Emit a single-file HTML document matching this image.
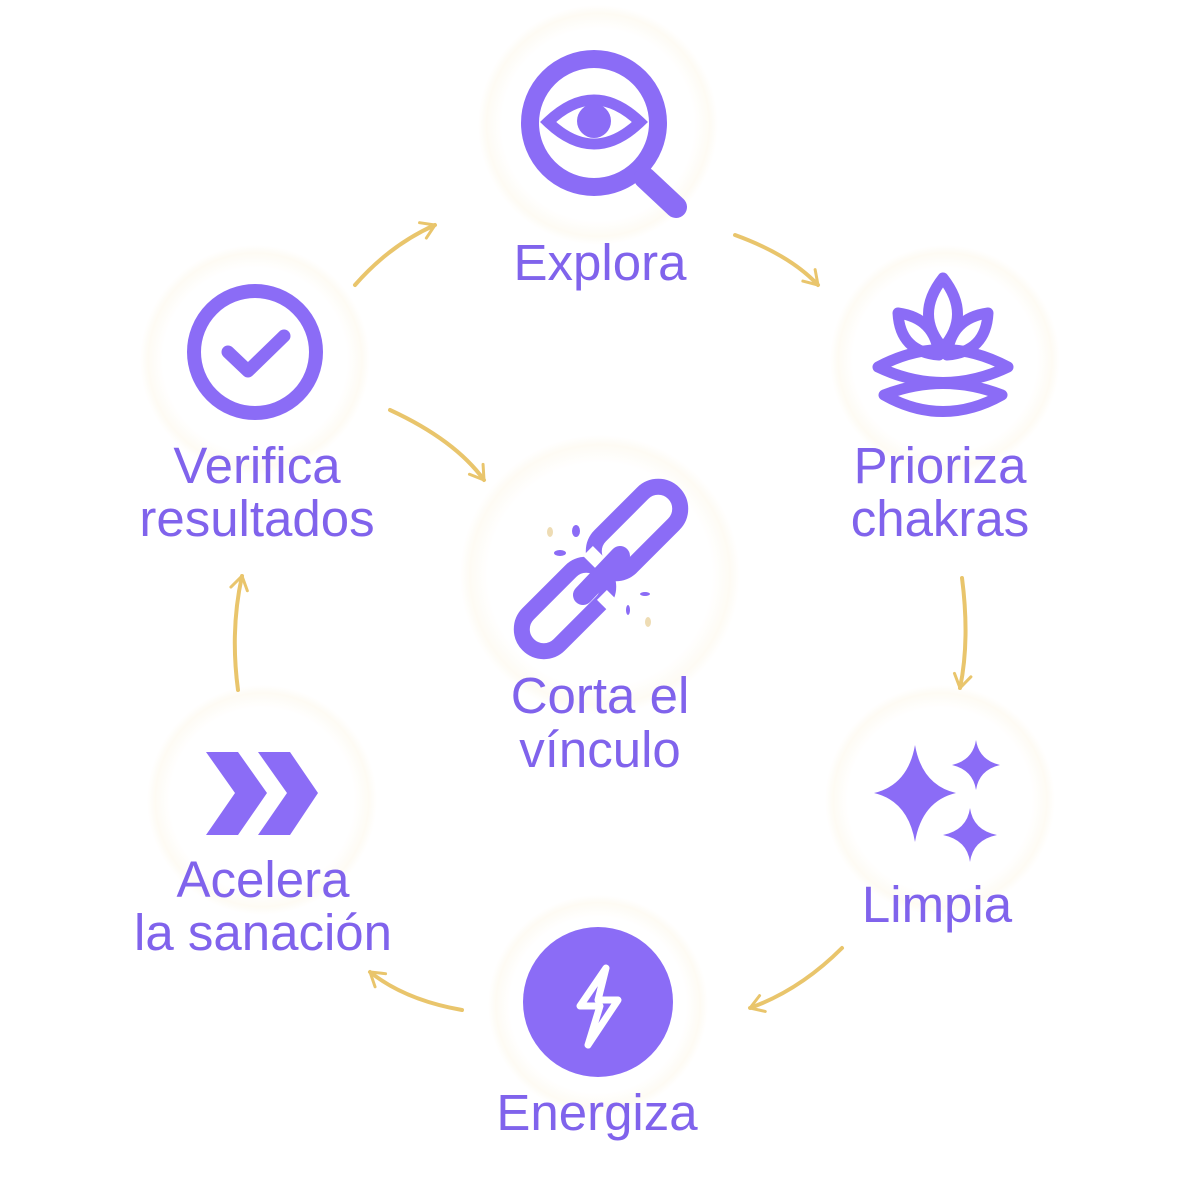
<!DOCTYPE html>
<html><head><meta charset="utf-8"><style>
html,body{margin:0;padding:0;background:#fff;}
svg{display:block}
text{font-family:"Liberation Sans","DejaVu Sans",sans-serif;fill:#8063ec;font-size:51px;text-anchor:middle;}
</style></head><body>
<svg width="1200" height="1200" viewBox="0 0 1200 1200" xmlns="http://www.w3.org/2000/svg">
<defs>
<radialGradient id="g"><stop offset="0.8" stop-color="#ffffff"/><stop offset="0.93" stop-color="#fefbf4"/><stop offset="1" stop-color="#ffffff"/></radialGradient>
<marker id="ah" viewBox="0 0 20 20" refX="14" refY="10" markerWidth="24" markerHeight="24" orient="auto" markerUnits="userSpaceOnUse">
<path d="M3 3 L14 10 L3 17" fill="none" stroke="#e9c56c" stroke-width="2.5" stroke-linecap="round" stroke-linejoin="round"/></marker>
</defs>
<g fill="url(#g)">
<circle cx="598" cy="125" r="120"/><circle cx="945" cy="360" r="115"/><circle cx="255" cy="360" r="115"/>
<circle cx="600" cy="575" r="140"/><circle cx="940" cy="800" r="115"/><circle cx="262" cy="800" r="115"/><circle cx="598" cy="1005" r="110"/>
</g>
<g fill="none" stroke="#e9c56c" stroke-width="4" stroke-linecap="round" marker-end="url(#ah)">
<path d="M355 285 Q390 245 435 225"/>
<path d="M735 235 Q790 255 818 285"/>
<path d="M962 578 Q970 640 960 688"/>
<path d="M842 948 Q800 990 750 1008"/>
<path d="M462 1010 Q405 1000 370 972"/>
<path d="M238 690 Q230 630 242 576"/>
<path d="M390 410 Q455 440 484 480"/>
</g>
<!-- magnifier -->
<circle cx="594" cy="123" r="64" fill="none" stroke="#8b6cf6" stroke-width="18"/>
<line x1="645" y1="178" x2="676" y2="207" stroke="#8b6cf6" stroke-width="22" stroke-linecap="round"/>
<path d="M548 122 Q594 78 640 122 Q594 166 548 122Z" fill="none" stroke="#8b6cf6" stroke-width="11"/>
<circle cx="594" cy="121" r="17" fill="#8b6cf6"/>
<!-- check -->
<circle cx="255" cy="352" r="61" fill="none" stroke="#8b6cf6" stroke-width="14"/>
<path d="M228 352 L248 371 L284 336" fill="none" stroke="#8b6cf6" stroke-width="13" stroke-linecap="round" stroke-linejoin="round"/>
<!-- lotus -->
<g fill="none" stroke="#8b6cf6" stroke-width="11" stroke-linejoin="round">
<path d="M943 278 Q972 315 943 348 Q914 315 943 278Z"/>
<path d="M898 313 Q935 318 939 355 Q900 352 898 313Z"/>
<path d="M988 313 Q951 318 947 355 Q986 352 988 313Z"/>
<path d="M878 367 Q943 332 1008 367 Q943 398 878 367Z"/>
<path d="M884 395 Q943 372 1002 395 Q943 428 884 395Z"/>
</g>
<!-- chain -->
<g fill="none" stroke="#8b6cf6" stroke-width="16">
<rect x="585" y="508" width="104" height="44" rx="22" transform="rotate(-45 637 530)"/>
<rect x="513" y="586" width="104" height="44" rx="22" transform="rotate(-45 565 608)"/>
</g>
<g fill="#fff">
<rect x="588" y="548" width="14" height="20" transform="rotate(-45 595 558)"/>
<rect x="602" y="592" width="14" height="20" transform="rotate(-45 609 602)"/>
</g>
<line x1="583" y1="595" x2="620" y2="556" stroke="#8b6cf6" stroke-width="20" stroke-linecap="round"/>
<g fill="#8b6cf6"><ellipse cx="576" cy="531" rx="4" ry="6"/><ellipse cx="560" cy="553" rx="6" ry="3"/><ellipse cx="645" cy="594" rx="5" ry="2"/><ellipse cx="628" cy="610" rx="2" ry="5"/></g>
<g fill="#eedcb4"><ellipse cx="550" cy="532" rx="3" ry="5"/><ellipse cx="648" cy="622" rx="3" ry="5"/></g>
<!-- sparkles -->
<g fill="#8b6cf6">
<path d="M915 745 Q922 785 956 793 Q922 801 915 842 Q908 801 874 793 Q908 785 915 745Z"/>
<path d="M976 740 Q979 760 1000 765 Q979 770 976 790 Q973 770 952 765 Q973 760 976 740Z"/>
<path d="M970 808 Q973 830 997 835 Q973 840 970 862 Q967 840 943 835 Q967 830 970 808Z"/>
</g>
<!-- chevrons -->
<g fill="#8b6cf6">
<path d="M206 752 L238 752 L267 793 L238 835 L206 835 L235 793Z"/>
<path d="M258 752 L290 752 L318 793 L290 835 L258 835 L287 793Z"/>
</g>
<!-- energy -->
<circle cx="598" cy="1002" r="75" fill="#8b6cf6"/>
<path d="M606 968 L580 1006 L600 1006 L588 1045 L618 1000 L598 1000 Z" fill="none" stroke="#fff" stroke-width="7" stroke-linejoin="round"/>
<!-- labels -->
<text x="600" y="280">Explora</text>
<text x="940" y="483">Prioriza</text><text x="940" y="536">chakras</text>
<text x="257" y="483">Verifica</text><text x="257" y="536">resultados</text>
<text x="600" y="713">Corta el</text><text x="600" y="767">vínculo</text>
<text x="937" y="922">Limpia</text>
<text x="263" y="897">Acelera</text><text x="263" y="950">la sanación</text>
<text x="597" y="1130">Energiza</text>
</svg>
</body></html>
